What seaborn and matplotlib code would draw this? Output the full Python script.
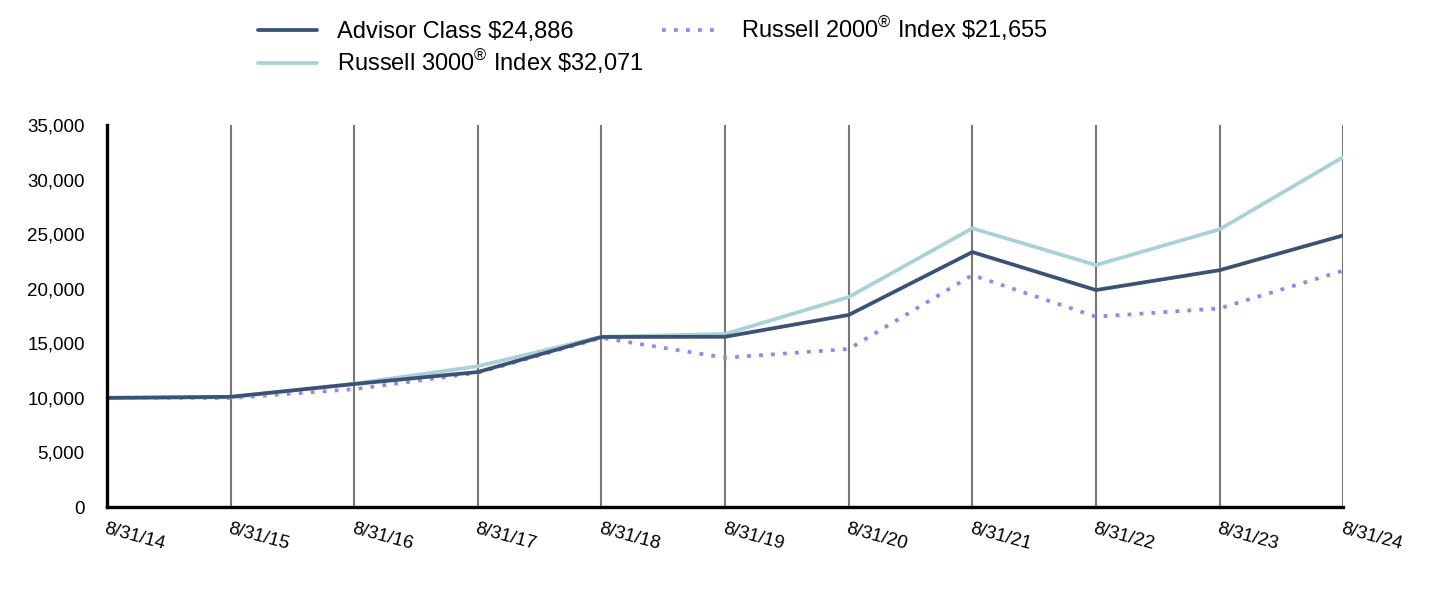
import pandas as pd
import numpy as np
import matplotlib
matplotlib.use("Agg")
import matplotlib.pyplot as plt
import seaborn as sns

dates = ["8/31/14", "8/31/15", "8/31/16", "8/31/17", "8/31/18", "8/31/19",
         "8/31/20", "8/31/21", "8/31/22", "8/31/23", "8/31/24"]
advisor = [10000, 10100, 11270, 12370, 15580, 15600, 17600, 23360, 19880, 21700, 24886]
russell_3000 = [10000, 10050, 11300, 12900, 15600, 15850, 19240, 25540, 22170, 25440, 32071]
russell_2000 = [10000, 9980, 10800, 12300, 15500, 13680, 14480, 21250, 17440, 18200, 21655]

labels = {
    "advisor": "Advisor Class \\$24,886",
    "r3000": "Russell 3000$^{®}$ Index \\$32,071",
    "r2000": "Russell 2000$^{®}$ Index \\$21,655",
}
colors = {"advisor": "#3A5275", "r3000": "#A8D2D6", "r2000": "#9583FA"}

sns.set_theme(style="white")
plt.rcParams['font.family'] = ['Liberation Sans', 'DejaVu Sans']
plt.rcParams['mathtext.fontset'] = 'custom'
plt.rcParams['mathtext.rm'] = 'Liberation Sans'
plt.rcParams['mathtext.default'] = 'regular'
plt.rcParams['text.color'] = 'black'
plt.rcParams['xtick.color'] = 'black'
plt.rcParams['ytick.color'] = 'black'

df = pd.DataFrame({"x": np.arange(len(dates)), "advisor": advisor,
                   "r3000": russell_3000, "r2000": russell_2000})

fig = plt.figure(figsize=(14.32, 5.96), dpi=100)
ax = fig.add_axes([0.0747, 0.1493, 0.8633, 0.6409])

for i in df["x"]:
    ax.axvline(i, color="#777777", lw=1.5, zorder=0)

sns.lineplot(data=df, x="x", y="r2000", ax=ax, color=colors["r2000"], lw=2.7,
             linestyle=(0, (1, 2.2)), label=labels["r2000"])
sns.lineplot(data=df, x="x", y="r3000", ax=ax, color=colors["r3000"], lw=2.7,
             label=labels["r3000"])
sns.lineplot(data=df, x="x", y="advisor", ax=ax, color=colors["advisor"], lw=2.7,
             label=labels["advisor"])

ax.set_xlim(0, len(dates) - 1)
ax.set_ylim(0, 35000)
ax.set_yticks(range(0, 35001, 5000))
ax.set_yticklabels([f"{v:,}" for v in range(0, 35001, 5000)], fontsize=13.5)
ax.set_xticks(df["x"])
ax.set_xticklabels(dates, fontsize=13.5, rotation=-15, ha="left",
                   rotation_mode="anchor")
ax.tick_params(axis="x", length=0, pad=10)
ax.tick_params(axis="y", length=0, pad=16)
ax.set_xlabel("")
ax.set_ylabel("")

for s in ["top", "right"]:
    ax.spines[s].set_visible(False)
for s in ["left", "bottom"]:
    ax.spines[s].set_color("black")
    ax.spines[s].set_linewidth(2.4)

handles, labs = ax.get_legend_handles_labels()
order = [2, 1, 0]
ax.legend([handles[i] for i in order], [labs[i] for i in order],
          ncol=2, frameon=False, fontsize=17, loc="upper left",
          bbox_to_anchor=(0.165, 1.01), bbox_transform=fig.transFigure,
          handlelength=2.5, handletextpad=0.85, columnspacing=0.8,
          labelspacing=0.2)

fig.savefig("out.png", dpi=100)
